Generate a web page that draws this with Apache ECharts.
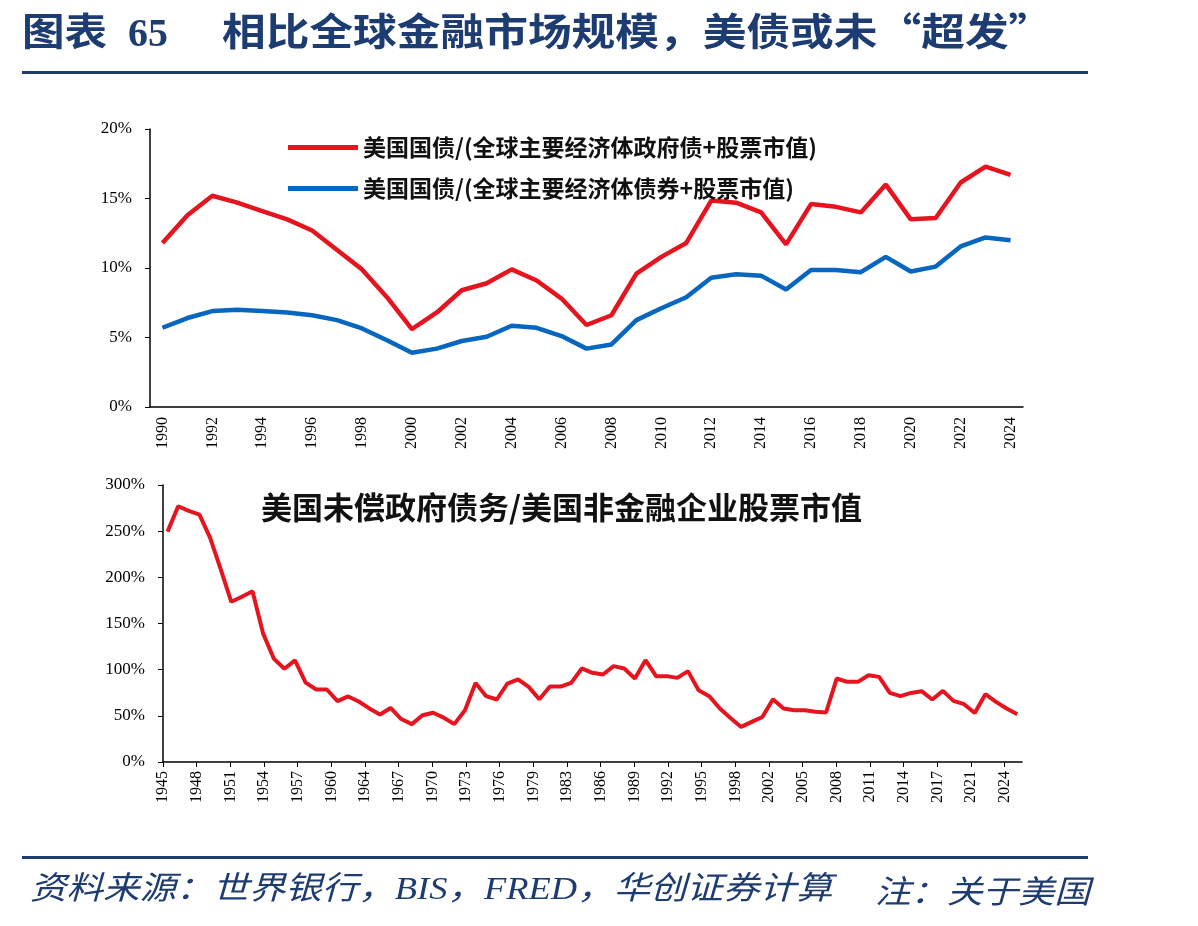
<!DOCTYPE html>
<html>
<head>
<meta charset="utf-8">
<script src="https://cdn.jsdelivr.net/npm/echarts@6/dist/echarts.min.js"></script>
<style>
  html, body { margin: 0; padding: 0; background: #fff; }
  #chart { width: 1198px; height: 926px; }
</style>
</head>
<body>
<div id="chart"></div>
<script>
// 上图：1990-2024
const topYears = ['1990', '1991', '1992', '1993', '1994', '1995', '1996', '1997', '1998', '1999',
  '2000', '2001', '2002', '2003', '2004', '2005', '2006', '2007', '2008', '2009',
  '2010', '2011', '2012', '2013', '2014', '2015', '2016', '2017', '2018', '2019',
  '2020', '2021', '2022', '2023', '2024']
// 美国国债/(全球主要经济体政府债+股票市值)，%
const govShare = [11.8, 13.8, 15.2, 14.7, 14.1, 13.5, 12.7, 11.3, 9.9, 7.9,
  5.6, 6.8, 8.4, 8.9, 9.9, 9.1, 7.8, 5.9, 6.6, 9.6,
  10.8, 11.8, 14.85, 14.7, 14.0, 11.7, 14.6, 14.4, 14.0, 16.0,
  13.5, 13.6, 16.15, 17.3, 16.7]
// 美国国债/(全球主要经济体债券+股票市值)，%
const bondShare = [5.7, 6.4, 6.9, 7.0, 6.9, 6.8, 6.6, 6.25, 5.65, 4.8,
  3.9, 4.2, 4.75, 5.05, 5.85, 5.7, 5.1, 4.2, 4.5, 6.25,
  7.1, 7.9, 9.3, 9.55, 9.45, 8.45, 9.85, 9.85, 9.7, 10.8,
  9.75, 10.1, 11.55, 12.2, 12.0]

// 下图：1945-2025，美国未偿政府债务/美国非金融企业股票市值，%
const bottomYears = []
for (let y = 1945; y <= 2025; y++) bottomYears.push(y)
const debtToEquity = [249.5, 277, 272, 268, 243, 209, 173.5, 179, 185, 139,
  112, 101, 110, 86, 78.5, 78.5, 66, 71, 65.5, 58,
  51.5, 58.5, 46.5, 41, 50.7, 53.4, 48, 41, 56, 85.5,
  71.3, 67.7, 85, 89.5, 81.3, 68, 81.7, 81.7, 85.7, 101.3,
  96.6, 94.8, 103.8, 101.3, 90.4, 110.3, 93, 93, 91.1, 98.4,
  77.8, 71.3, 57.9, 47.7, 38, 43.4, 48.8, 68, 57.9, 56.1,
  56.1, 54.5, 53.6, 90.4, 86.8, 86.8, 94, 92.2, 74.8, 71.3,
  74.8, 76.7, 67.7, 77, 66.2, 62.6, 53.1, 73.4, 65.1, 57.9, 51.7]
const bottomTickLabels = ['1945', '1948', '1951', '1954', '1957', '1960', '1964', '1967', '1970',
  '1973', '1976', '1979', '1983', '1986', '1989', '1992', '1995', '1998', '2002', '2005',
  '2008', '2011', '2014', '2017', '2021', '2024']

const legendNames = ['美国国债/(全球主要经济体政府债+股票市值)', '美国国债/(全球主要经济体债券+股票市值)']

const RED = '#E5141F'
const BLUE = '#0766C0'
const NAVY = '#1D3C72'
const serif = 'Liberation Serif'
const cjk = 'Noto Sans CJK SC'

// 下图时间轴：刻度间隔约3.17年
const xMin = 1944.57
const xMax = 2025.45
const xStep = 3.17
const tickPos = bottomTickLabels.map((_, i) => +(xMin + i * xStep).toFixed(3))

const axisLineStyle = { color: '#000', width: 1.5 }
const labelStyle = { color: '#000', fontFamily: serif, fontSize: 17 }

var chartDom = document.getElementById('chart')
var myChart = echarts.init(chartDom)

const option = {
  animation: false,
  backgroundColor: '#fff',
  title: {
    text: '美国未偿政府债务/美国非金融企业股票市值',
    left: 256,
    top: 487,
    textStyle: { color: '#111', fontFamily: cjk, fontWeight: 'bold', fontSize: 31 }
  },
  legend: {
    data: legendNames,
    orient: 'vertical',
    left: 283,
    top: 131,
    icon: 'rect',
    itemWidth: 70,
    itemHeight: 5,
    itemGap: 18,
    selectedMode: false,
    textStyle: { color: '#111', fontFamily: cjk, fontSize: 23, fontWeight: 'bold' }
  },
  grid: [
    { left: 150, right: 175, top: 129, height: 278 },
    { left: 163, right: 176, top: 485, height: 277 }
  ],
  xAxis: [
    {
      type: 'category',
      gridIndex: 0,
      data: topYears,
      boundaryGap: true,
      axisLine: { lineStyle: axisLineStyle },
      axisTick: { interval: 1, length: 5, lineStyle: { color: '#000' } },
      axisLabel: { interval: 1, rotate: 90, margin: 10, ...labelStyle, fontSize: 16 }
    },
    {
      type: 'value',
      gridIndex: 1,
      min: xMin,
      max: xMax,
      splitLine: { show: false },
      axisLine: { onZero: false, lineStyle: axisLineStyle },
      axisTick: { customValues: tickPos, length: 5, lineStyle: { color: '#000' } },
      axisLabel: {
        customValues: tickPos,
        rotate: 90,
        margin: 9,
        ...labelStyle,
        fontSize: 16,
        formatter: (v) => bottomTickLabels[Math.round((v - xMin) / xStep)] || ''
      }
    }
  ],
  yAxis: [
    {
      type: 'value',
      gridIndex: 0,
      min: 0,
      max: 20,
      interval: 5,
      splitLine: { show: false },
      axisLine: { show: true, lineStyle: axisLineStyle },
      axisTick: { show: true, length: 5, lineStyle: { color: '#000' } },
      axisLabel: { formatter: '{value}%', margin: 18, ...labelStyle }
    },
    {
      type: 'value',
      gridIndex: 1,
      min: 0,
      max: 300,
      interval: 50,
      splitLine: { show: false },
      axisLine: { show: true, onZero: false, lineStyle: axisLineStyle },
      axisTick: { show: true, length: 5, lineStyle: { color: '#000' } },
      axisLabel: { formatter: '{value}%', margin: 18, ...labelStyle }
    }
  ],
  series: [
    {
      name: legendNames[0],
      type: 'line',
      xAxisIndex: 0,
      yAxisIndex: 0,
      data: govShare,
      symbol: 'none',
      color: RED,
      lineStyle: { color: RED, width: 4.5 }
    },
    {
      name: legendNames[1],
      type: 'line',
      xAxisIndex: 0,
      yAxisIndex: 0,
      data: bondShare,
      symbol: 'none',
      color: BLUE,
      lineStyle: { color: BLUE, width: 4.5 }
    },
    {
      name: '美国未偿政府债务/美国非金融企业股票市值',
      type: 'line',
      xAxisIndex: 1,
      yAxisIndex: 1,
      data: bottomYears.map((y, i) => [y, debtToEquity[i]]),
      symbol: 'none',
      color: RED,
      lineStyle: { color: RED, width: 4 }
    }
  ],
  graphic: [
    // 标题
    { type: 'text', x: 22, y: 31, scaleX: 1.12, style: { text: '图表', font: 'bold 38px "' + cjk + '"', fill: NAVY, verticalAlign: 'middle' } },
    { type: 'text', x: 128, y: 36, style: { text: '65', font: 'bold 40px "' + serif + '"', fill: NAVY, verticalAlign: 'middle' } },
    { type: 'text', x: 222, y: 31, scaleX: 1.15, style: { text: '相比全球金融市场规模，美债或未“超发”', font: 'bold 38px "' + cjk + '"', fill: NAVY, verticalAlign: 'middle' } },
    { type: 'rect', shape: { x: 22, y: 71, width: 1066, height: 3 }, style: { fill: NAVY } },
    // 底部
    { type: 'rect', shape: { x: 22, y: 856, width: 1066, height: 3 }, style: { fill: NAVY } },
    { type: 'text', x: 30, y: 891, scaleX: 1.14, style: { text: '资料来源：世界银行，BIS，FRED，华创证券计算', font: 'italic 32px "' + serif + '", "' + cjk + '"', fill: NAVY, verticalAlign: 'middle' } },
    { type: 'text', x: 875, y: 891, scaleX: 1.12, style: { text: '注：关于美国', font: 'italic 32px "' + cjk + '"', fill: NAVY, verticalAlign: 'middle' } }
  ]
}
myChart.setOption(option)
</script>
</body>
</html>
